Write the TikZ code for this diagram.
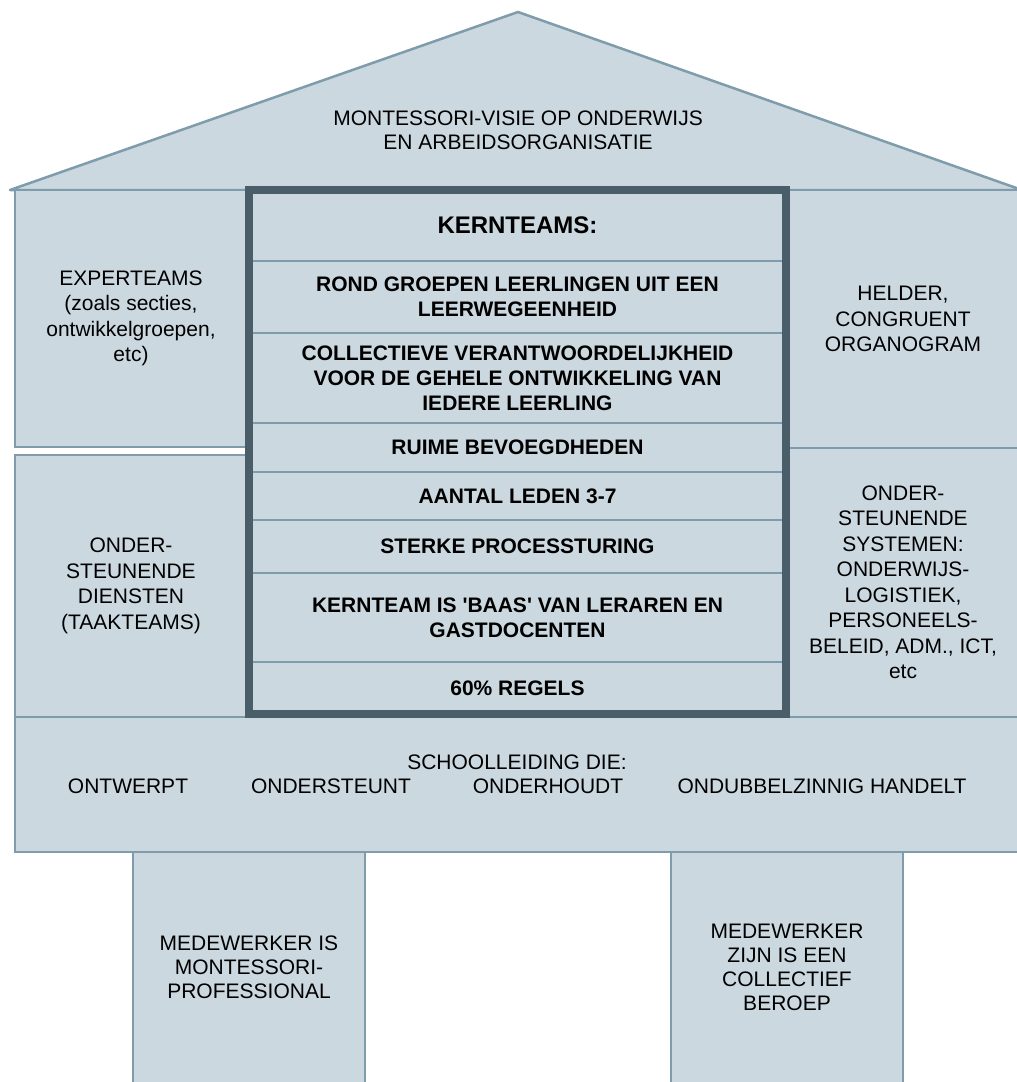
\documentclass[tikz,border=0pt]{standalone}
\usepackage{fontspec}
\setmainfont{Liberation Sans}
\usepackage{tikz}
\definecolor{huis}{RGB}{203,216,223}
\definecolor{rand}{RGB}{127,156,172}
\definecolor{kern}{RGB}{74,94,106}

\begin{document}
\begin{tikzpicture}[x=1pt,y=-1pt,
    vak/.style={draw=rand,fill=huis,line width=2.5pt,outer sep=0pt,inner sep=0pt,align=center,font=\fontsize{21}{25.5}\selectfont},
    rij/.style={vak,minimum width=537pt,font=\bfseries\fontsize{21}{25}\selectfont},
    tekst/.style={inner sep=0pt,align=center,font=\fontsize{21}{24}\selectfont}]
              \useasboundingbox (0,0) rectangle (1017,1082);
              \fill[white](0,0)rectangle(1017,1082);
              \draw[rand,fill=huis,line width=2.5pt,line join=round](10,190)--(518,12)--(1022,190)--cycle;
              \node[tekst](visie)at(518,130){MONTESSORI-VISIE OP ONDERWIJS\\EN ARBEIDSORGANISATIE};
              \node[vak,minimum width=232pt,minimum height=257pt](expert)at(131,318.5){EXPERTEAMS\\(zoals secties,\\ontwikkelgroepen,\\etc)};
              \node[vak,minimum width=232pt,minimum height=262pt](diensten)at(131,586){ONDER-\\STEUNENDE\\DIENSTEN\\(TAAKTEAMS)};
              \node[vak,minimum width=230pt,minimum height=258pt](organogram)at(903,319){HELDER,\\CONGRUENT\\ORGANOGRAM};
              \node[vak,minimum width=230pt,minimum height=269pt](systemen)at(903,582.5){ONDER-\\STEUNENDE\\SYSTEMEN:\\ONDERWIJS-\\LOGISTIEK,\\PERSONEELS-\\BELEID, ADM., ICT,\\etc};
              \node[vak,minimum width=1007pt,minimum height=135pt](leiding)at(518.5,784.5){};
              \node[tekst](die)at(517,762){SCHOOLLEIDING DIE:};
              \node[tekst](ontwerpt)at(128,786){ONTWERPT};
              \node[tekst](ondersteunt)at(331,786){ONDERSTEUNT};
              \node[tekst](onderhoudt)at(548,786){ONDERHOUDT};
              \node[tekst](handelt)at(822,786){ONDUBBELZINNIG HANDELT};
              \node[vak,minimum width=232pt,minimum height=236pt](prof)at(249,970){};
              \node[tekst](proftekst)at(249,967){MEDEWERKER IS\\MONTESSORI-\\PROFESSIONAL};
              \node[vak,minimum width=232pt,minimum height=236pt](beroep)at(787,970){};
              \node[tekst](beroeptekst)at(787,967){MEDEWERKER\\ZIJN IS EEN\\COLLECTIEF\\BEROEP};
              \node[rij,minimum height=71pt,font=\bfseries\fontsize{24}{28}\selectfont](kop)at(517.5,225.5){KERNTEAMS:};
              \node[rij,minimum height=72pt](rond)at(517.5,297){ROND GROEPEN LEERLINGEN UIT EEN\\LEERWEGEENHEID};
              \node[rij,minimum height=90pt](collectief)at(517.5,378){COLLECTIEVE VERANTWOORDELIJKHEID\\VOOR DE GEHELE ONTWIKKELING VAN\\IEDERE LEERLING};
              \node[rij,minimum height=49pt](ruim)at(517.5,447.5){RUIME BEVOEGDHEDEN};
              \node[rij,minimum height=48pt](leden)at(517.5,496){AANTAL LEDEN 3-7};
              \node[rij,minimum height=53pt](sturing)at(517.5,546.5){STERKE PROCESSTURING};
              \node[rij,minimum height=89pt](baas)at(517.5,617.5){KERNTEAM IS \textquotesingle BAAS\textquotesingle{} VAN LERAREN EN\\GASTDOCENTEN};
              \node[rij,minimum height=52pt](regels)at(517.5,688){60\% REGELS};
              \draw[kern,line width=8pt](kop.north west)rectangle(regels.south east);
            \end{tikzpicture}
\end{document}
